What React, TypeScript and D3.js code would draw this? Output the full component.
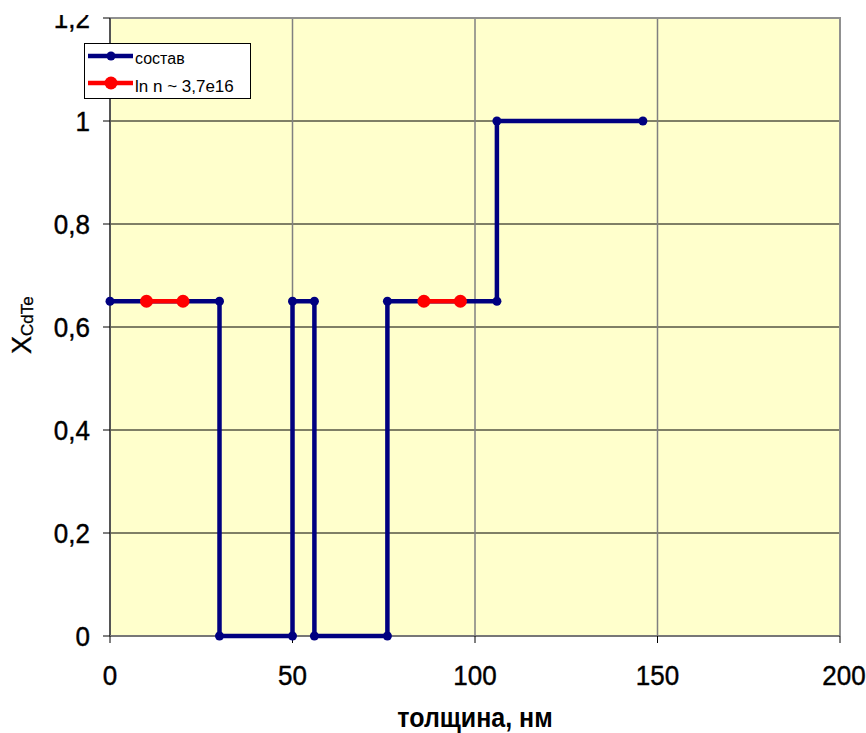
import React from "react";
import * as d3 from "d3";

// ---- data ----
const compositionX = [0, 30, 30, 50, 50, 56, 56, 76, 76, 106, 106, 146];
const compositionY = [0.65, 0.65, 0, 0, 0.65, 0.65, 0, 0, 0.65, 0.65, 1, 1];
const dopedSegmentsX = [
  [10, 20],
  [86, 96],
];
const dopedLevel = 0.65;
const xTicks = [0, 50, 100, 150, 200];
const yTicks = [0, 0.2, 0.4, 0.6, 0.8, 1, 1.2];
const yTickLabels = ["0", "0,2", "0,4", "0,6", "0,8", "1", "1,2"];
const seriesNames = ["состав", "ln n ~ 3,7e16"];
const xTitle = "толщина, нм";

const W = 866;
const H = 733;
const FONT = "'Liberation Sans', Arial, Helvetica, sans-serif";
const BLUE = "#000080";
const RED = "#FF0000";

export default function App() {
  const x = d3.scaleLinear().domain([0, 200]).range([110, 840]);
  const y = d3.scaleLinear().domain([0, 1.2]).range([636, 18]);
  const [x0, x1] = x.range();
  const [yb, yt] = y.range();

  const comp = compositionX.map((v, i) => [v, compositionY[i]] as [number, number]);
  const line = d3
    .line<[number, number]>()
    .x((d) => x(d[0]))
    .y((d) => y(d[1]));

  return (
    <svg
      width={W}
      height={H}
      style={{ position: "absolute", left: 0, top: 0, display: "block", background: "#fff" }}
      fontFamily={FONT}
    >
      <defs>
        <clipPath id="topclip">
          <rect x={0} y={15} width={W} height={H} />
        </clipPath>
      </defs>
      {/* plot background */}
      <rect x={x0} y={yt} width={x1 - x0} height={yb - yt} fill="#FFFFCC" />
      {/* horizontal gridlines */}
      {yTicks
        .filter((t) => t > 0 && t < 1.2)
        .map((t) => (
          <line key={"hg" + t} x1={x0} x2={x1} y1={y(t)} y2={y(t)} stroke="#000" strokeWidth={1} />
        ))}
      {/* vertical gridlines */}
      {xTicks
        .filter((t) => t > 0 && t < 200)
        .map((t) => (
          <line key={"vg" + t} x1={x(t)} x2={x(t)} y1={yt} y2={yb} stroke="#808080" strokeWidth={1.5} />
        ))}
      {/* border top/right */}
      <path d={`M${x0},${yt}H${x1}V${yb}`} fill="none" stroke="#909090" strokeWidth={2} />
      {/* axes */}
      <line x1={x0} x2={x0} y1={yt} y2={yb} stroke="#555" strokeWidth={2} />
      <line x1={x0} x2={x1} y1={yb} y2={yb} stroke="#777" strokeWidth={2} />
      {/* y ticks */}
      {yTicks.map((t) => (
        <line key={"yt" + t} x1={x0 - 7} x2={x0} y1={y(t)} y2={y(t)} stroke="#000" strokeWidth={1} />
      ))}
      {/* x ticks */}
      {xTicks.map((t) => (
        <line key={"xt" + t} x1={x(t)} x2={x(t)} y1={yb} y2={yb + 7} stroke="#000" strokeWidth={1} />
      ))}
      {/* y tick labels */}
      <g clipPath="url(#topclip)">
        {yTicks.map((t, i) => (
          <text
            key={"yl" + t}
            transform={`translate(90,${y(t) + 9.5}) scale(1,1.08)`}
            textAnchor="end"
            fontSize={26}
            fill="#000"
            stroke="#000"
            strokeWidth={0.4}
          >
            {yTickLabels[i]}
          </text>
        ))}
      </g>
      {/* x tick labels */}
      {xTicks.map((t) => (
        <text
          key={"xl" + t}
          transform={`translate(${x(t) + (t === 200 ? 4 : 0)},685) scale(1,1.08)`}
          textAnchor="middle"
          fontSize={26}
          fill="#000"
          stroke="#000"
          strokeWidth={0.4}
        >
          {t}
        </text>
      ))}
      {/* x title */}
      <text
        transform={`translate(${x(100)},727) scale(1,1.08)`}
        textAnchor="middle"
        fontSize={25}
        fontWeight="bold"
        fill="#000"
      >
        {xTitle}
      </text>
      {/* y title */}
      <text
        transform="translate(31,354) rotate(-90)"
        fontSize={27}
        fill="#000"
        stroke="#000"
        strokeWidth={0.3}
      >
        X
        <tspan fontSize={17} dy={2}>
          CdTe
        </tspan>
      </text>
      {/* composition series */}
      <path d={line(comp) || ""} fill="none" stroke={BLUE} strokeWidth={4.5} strokeLinejoin="miter" />
      {comp.map((d, i) => (
        <circle key={"bc" + i} cx={x(d[0])} cy={y(d[1])} r={4.5} fill={BLUE} />
      ))}
      {/* doped segments */}
      {dopedSegmentsX.map((seg, i) => (
        <g key={"rs" + i}>
          <path
            d={line(seg.map((v) => [v, dopedLevel] as [number, number])) || ""}
            fill="none"
            stroke={RED}
            strokeWidth={4.5}
          />
          {seg.map((v, j) => (
            <circle key={j} cx={x(v)} cy={y(dopedLevel)} r={6.5} fill={RED} />
          ))}
        </g>
      ))}
      {/* legend */}
      <g>
        <rect x={84.5} y={43.5} width={166} height={55} fill="#fff" stroke="#000" strokeWidth={1} />
        <line x1={88} x2={133} y1={56} y2={56} stroke={BLUE} strokeWidth={4.5} />
        <circle cx={111} cy={56} r={4.5} fill={BLUE} />
        <text x={135} y={64} fontSize={16} fill="#000">
          {seriesNames[0]}
        </text>
        <line x1={88} x2={133} y1={83} y2={83} stroke={RED} strokeWidth={4.5} />
        <circle cx={111} cy={83} r={6.5} fill={RED} />
        <text x={135} y={92} fontSize={17} fill="#000">
          {seriesNames[1]}
        </text>
      </g>
    </svg>
  );
}
